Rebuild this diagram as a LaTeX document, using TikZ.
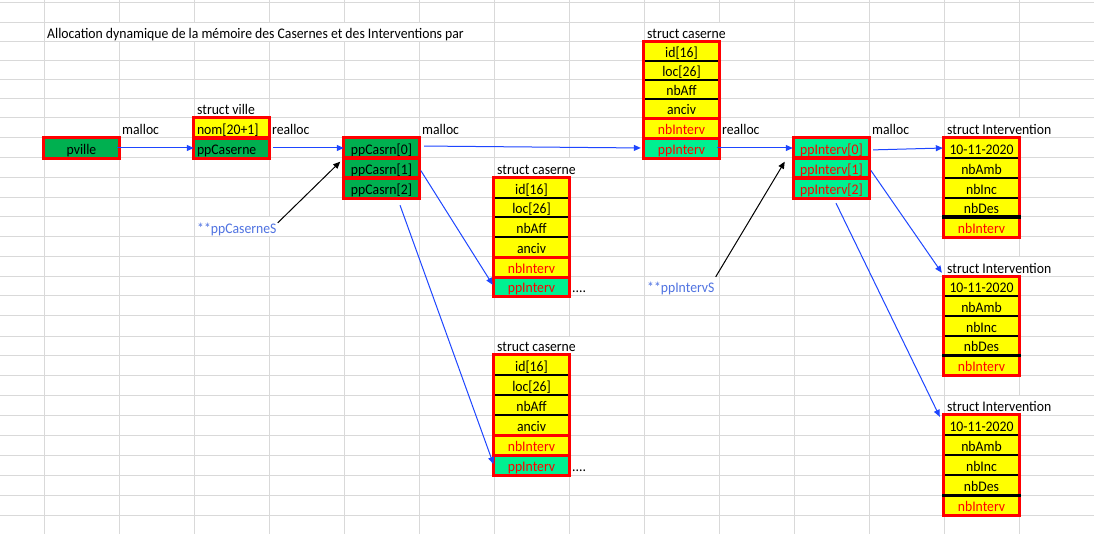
\documentclass[tikz,border=0pt]{standalone}
\usepackage{fontspec}
\setmainfont{Carlito}[FakeStretch=0.935]
\usetikzlibrary{arrows.meta,calc}
\definecolor{gridc}{RGB}{217,217,217}
\definecolor{xgreen}{RGB}{0,176,80}
\definecolor{xspring}{RGB}{0,240,145}
\definecolor{xyellow}{RGB}{255,255,0}
\definecolor{xred}{RGB}{255,0,0}
\definecolor{xblue}{RGB}{30,70,255}
\definecolor{xlblue}{RGB}{80,115,225}
\newcommand\xlfont{\fontsize{14.67pt}{17pt}\selectfont}
\newcommand\mkcell[6]{%
  \pgfmathsetmacro\cellh{#4-#3}%
  \pgfmathsetmacro\cellth{#4-#3-3.5}%
  \node[cellnode, minimum height=\cellh pt, text height=\cellth pt, #5] (#1) at ({#2+37.5},{(#3+#4)/2}) {#6};}
\tikzset{
  cellnode/.style={inner sep=0pt, minimum width=75pt, text depth=3.5pt, anchor=center, font=\xlfont},
  leftc/.style={text width=69pt, inner xsep=3pt, align=left},
  redt/.style={text=xred},
  redbd/.style={draw=xred, line width=3.2pt},
  blksep/.style={draw=black, line width=2.4pt},
  redsep/.style={draw=xred, line width=3.2pt},
  lbl/.style={anchor=base west, inner sep=0pt, font=\xlfont},
  barrow/.style={draw=xblue, line width=1pt, -{Triangle[length=7pt,width=6pt]}},
  karrow/.style={draw=black, line width=1pt, -{Triangle[length=7pt,width=6pt]}},
  mask/.style={fill=white, draw=none}
}
\begin{document}
\begin{tikzpicture}[x=1pt,y=-1pt]
\useasboundingbox (0,0) rectangle (1094,534);
\fill[white] (0,0) rectangle (1094,534);
% grid
\foreach \yy in {3,23,42,61,80,99,118,138,158,178,198,217,237,257,277,296,316,336,355,375,395,415,435,455,475,495,515,534}
  \draw[gridc, line width=1pt] (0,\yy) -- (1094,\yy);
\foreach \k in {0,...,13}
  \draw[gridc, line width=1pt] ({44+75*\k},0) -- ({44+75*\k},534);
% masks where text overflows into next cells
\path[mask] (44.5,23.5) rectangle (493.5,41.5);
\path[mask] (644.5,23.5) rectangle (793.5,41.5);
\path[mask] (494.5,158.5) rectangle (643.5,177.5);
\path[mask] (494.5,336.5) rectangle (643.5,354.5);
\path[mask] (944.5,118.5) rectangle (1093.5,137.5);
\path[mask] (944.5,257.5) rectangle (1093.5,276.5);
\path[mask] (944.5,395.5) rectangle (1093.5,414.5);
\path[mask] (194.5,217.5) rectangle (343.5,236.5);
% pville and struct ville
\mkcell{pv}{44}{138}{158}{fill=xgreen}{pville}
\mkcell{vnom}{194}{118}{138}{fill=xyellow,leftc}{nom[20+1]}
\mkcell{vpp}{194}{138}{158}{fill=xgreen,leftc}{ppCaserne}
% ppCasrn array
\mkcell{c0}{344}{138}{158}{fill=xgreen}{ppCasrn[0]}
\mkcell{c1}{344}{158}{178}{fill=xgreen}{ppCasrn[1]}
\mkcell{c2}{344}{178}{198}{fill=xgreen}{ppCasrn[2]}
% ppInterv array
\mkcell{p0}{794}{138}{158}{fill=xspring,redt}{ppInterv[0]}
\mkcell{p1}{794}{158}{178}{fill=xspring,redt}{ppInterv[1]}
\mkcell{p2}{794}{178}{198}{fill=xspring,redt}{ppInterv[2]}
\foreach \n in {pv,vnom,vpp,c0,c1,c2,p0,p1,p2}
  \draw[redbd] (\n.north west) rectangle (\n.south east);
% struct caserne (top)
\mkcell{a1}{644}{42}{61}{fill=xyellow}{id[16]}
\mkcell{a2}{644}{61}{80}{fill=xyellow}{loc[26]}
\mkcell{a3}{644}{80}{99}{fill=xyellow}{nbAff}
\mkcell{a4}{644}{99}{118}{fill=xyellow}{anciv}
\mkcell{a5}{644}{118}{138}{fill=xyellow,redt}{nbInterv}
\mkcell{a6}{644}{138}{158}{fill=xspring,redt}{ppInterv}
% struct caserne (middle)
\mkcell{b1}{494}{178}{198}{fill=xyellow}{id[16]}
\mkcell{b2}{494}{198}{217}{fill=xyellow}{loc[26]}
\mkcell{b3}{494}{217}{237}{fill=xyellow}{nbAff}
\mkcell{b4}{494}{237}{257}{fill=xyellow}{anciv}
\mkcell{b5}{494}{257}{277}{fill=xyellow,redt}{nbInterv}
\mkcell{b6}{494}{277}{296}{fill=xspring,redt}{ppInterv}
% struct caserne (bottom)
\mkcell{d1}{494}{355}{375}{fill=xyellow}{id[16]}
\mkcell{d2}{494}{375}{395}{fill=xyellow}{loc[26]}
\mkcell{d3}{494}{395}{415}{fill=xyellow}{nbAff}
\mkcell{d4}{494}{415}{435}{fill=xyellow}{anciv}
\mkcell{d5}{494}{435}{455}{fill=xyellow,redt}{nbInterv}
\mkcell{d6}{494}{455}{475}{fill=xspring,redt}{ppInterv}
\foreach \g in {a,b,d}{
  \foreach \i in {1,2,3}
    \draw[blksep] (\g\i.south west) -- (\g\i.south east);
  \foreach \i in {4,5}
    \draw[redsep] (\g\i.south west) -- (\g\i.south east);
  \draw[redbd] (\g1.north west) rectangle (\g6.south east);
}
% struct Intervention x3
\mkcell{i1}{944}{138}{158}{fill=xyellow}{10-11-2020}
\mkcell{i2}{944}{158}{178}{fill=xyellow}{nbAmb}
\mkcell{i3}{944}{178}{198}{fill=xyellow}{nbInc}
\mkcell{i4}{944}{198}{217}{fill=xyellow}{nbDes}
\mkcell{i5}{944}{217}{237}{fill=xyellow,redt}{nbInterv}
\mkcell{j1}{944}{277}{296}{fill=xyellow}{10-11-2020}
\mkcell{j2}{944}{296}{316}{fill=xyellow}{nbAmb}
\mkcell{j3}{944}{316}{336}{fill=xyellow}{nbInc}
\mkcell{j4}{944}{336}{355}{fill=xyellow}{nbDes}
\mkcell{j5}{944}{355}{375}{fill=xyellow,redt}{nbInterv}
\mkcell{k1}{944}{415}{435}{fill=xyellow}{10-11-2020}
\mkcell{k2}{944}{435}{455}{fill=xyellow}{nbAmb}
\mkcell{k3}{944}{455}{475}{fill=xyellow}{nbInc}
\mkcell{k4}{944}{475}{495}{fill=xyellow}{nbDes}
\mkcell{k5}{944}{495}{515}{fill=xyellow,redt}{nbInterv}
\foreach \g in {i,j,k}{
  \foreach \i in {1,2,3}
    \draw[blksep] (\g\i.south west) -- (\g\i.south east);
  \draw[redbd] (\g1.north west) rectangle (\g5.south east);
  \draw[draw=black, line width=3.4pt] ([xshift=-1.6pt]\g4.south west) -- ([xshift=1.6pt]\g4.south east);
}
% labels
\node[lbl] (title) at (47,38.5) {Allocation dynamique de la mémoire des Casernes et des Interventions par};
\node[lbl] (sva) at (647,38.5) {struct caserne};
\node[lbl] (svl) at (197,114.5) {struct ville};
\node[lbl] (m1) at (122,134.5) {malloc};
\node[lbl] (r1) at (272,134.5) {realloc};
\node[lbl] (m2) at (422,134.5) {malloc};
\node[lbl] (r2) at (722,134.5) {realloc};
\node[lbl] (m3) at (872,134.5) {malloc};
\node[lbl] (si1) at (947,134.5) {struct Intervention};
\node[lbl] (si2) at (947,273.5) {struct Intervention};
\node[lbl] (si3) at (947,411.5) {struct Intervention};
\node[lbl] (svb) at (497,174.5) {struct caserne};
\node[lbl] (svd) at (497,351.5) {struct caserne};
\node[lbl, text=xlblue] (cS) at (197,233.5) {**ppCaserneS};
\node[lbl, text=xlblue] (iS) at (647,292.5) {**ppIntervS};
\node[lbl] (dotb) at (572,292.5) {....};
\node[lbl] (dotd) at (572,471.5) {....};
% connectors
\draw[barrow, shorten <=-2pt] (pv.east) -- (vpp.west);
\draw[barrow, shorten <=4pt] (vpp.east) -- (c0.west);
\draw[barrow, shorten <=5pt, shorten >=3pt] ([yshift=2pt]c0.east) -- (a6.west);
\draw[barrow, shorten <=3pt, shorten >=2pt] (c1.east) -- (b6.west);
\draw[barrow, shorten >=1pt] ($(c2.south)+(18.5,7)$) -- (d6.west);
\draw[karrow, shorten >=5pt] ($(cS.north east)+(1,0)$) -- (c0.south west);
\draw[barrow, shorten <=-2pt, shorten >=1pt] (a6.east) -- (p0.west);
\draw[karrow, shorten >=4pt] ($(iS.north east)+(1,-5)$) -- ($(p0.south west)+(-7,0)$);
\draw[barrow, shorten <=4pt, shorten >=1pt] ([yshift=-2pt]p0.east) -- (i1.west);
\draw[barrow, shorten <=3pt] (p1.east) -- ($(j1.north west)+(-2,-4)$);
\draw[barrow] ($(p2.south)+(4.5,5)$) -- ($(k1.north west)+(-4,2)$);
\end{tikzpicture}
\end{document}
